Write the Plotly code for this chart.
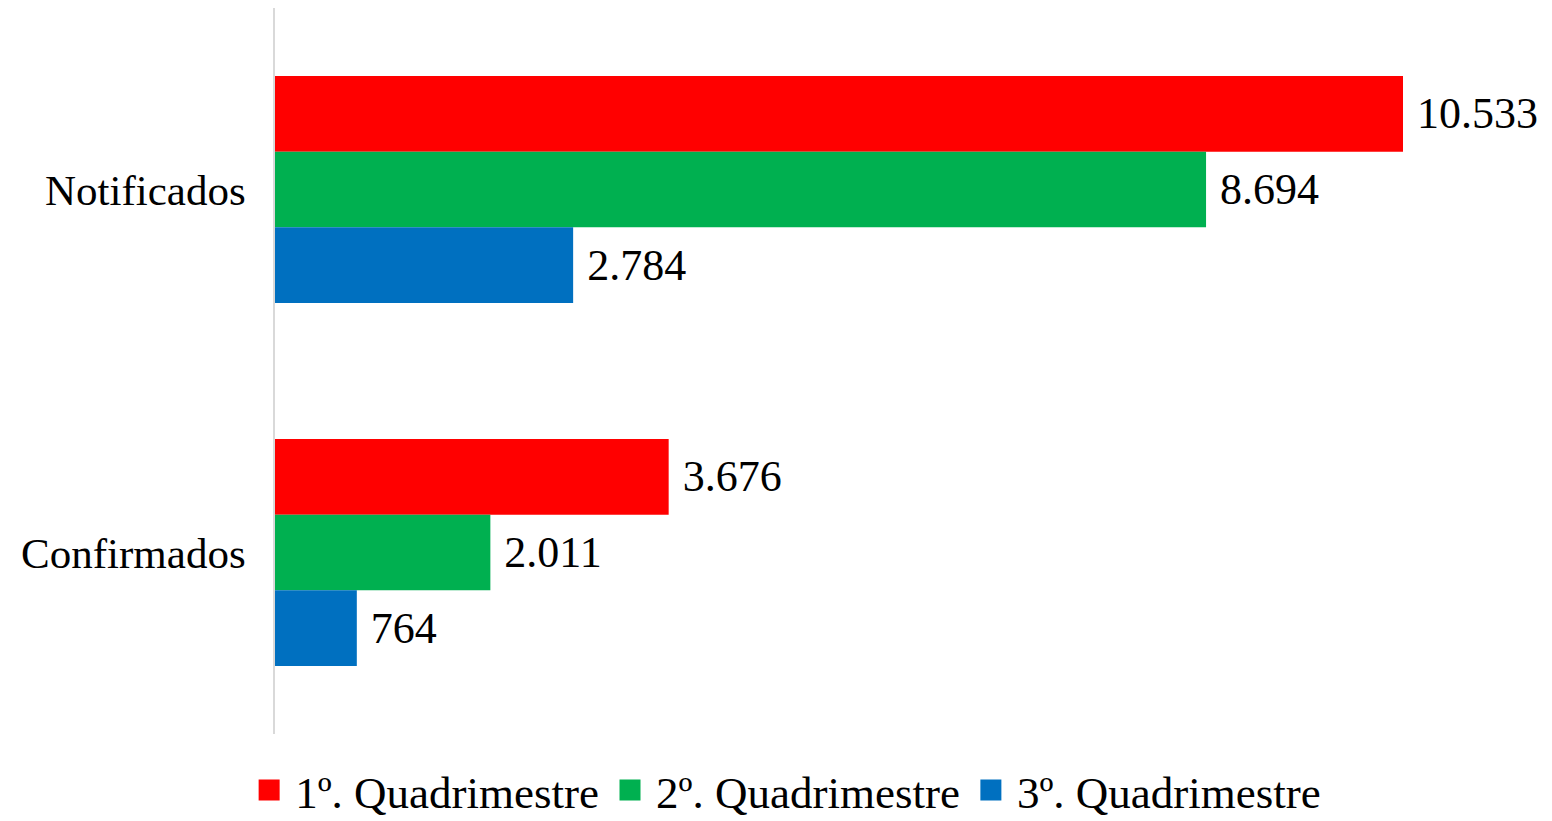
import plotly.graph_objects as go

categories = ["Notificados", "Confirmados"]
series_names = ["1º. Quadrimestre", "2º. Quadrimestre", "3º. Quadrimestre"]
q1 = [10533, 3676]
q2 = [8694, 2011]
q3 = [2784, 764]
colors = ["#FF0000", "#00B050", "#0070C0"]

FONT = "Liberation Serif"
FS = 43

def fmt(v):
    return " " + f"{v:,}".replace(",", ".")

fig = go.Figure()
for name, vals, col in zip(series_names, [q1, q2, q3], colors):
    fig.add_trace(go.Bar(
        y=categories, x=vals, orientation="h", name=name,
        marker=dict(color=col, line=dict(width=0)),
        text=[fmt(v) for v in vals], textposition="outside",
        textfont=dict(family=FONT, size=44, color="#000000"),
        cliponaxis=False, showlegend=False,
    ))
    fig.add_trace(go.Scatter(
        x=[None], y=[None], mode="markers", name=name,
        marker=dict(symbol="square", size=16, color=col, line=dict(width=5, color=col)),
        showlegend=True,
    ))

fig.update_layout(
    width=1544, height=813,
    paper_bgcolor="white", plot_bgcolor="white",
    margin=dict(l=267, r=10, t=0, b=87, autoexpand=False),
    barmode="group", bargap=0.375, bargroupgap=0,
    font=dict(family=FONT, size=FS, color="#000000"),
    legend=dict(orientation="h", xref="container", yref="paper",
                x=0.503, xanchor="center", y=-0.028, yanchor="top",
                font=dict(family=FONT, size=45), itemwidth=42, tracegroupgap=0,
                bgcolor="rgba(0,0,0,0)"),
    xaxis=dict(range=[0, 11831], showgrid=False, showticklabels=False, zeroline=False,
               showline=False, ticks="", automargin=False),
    yaxis=dict(autorange="reversed", showgrid=False, showline=True, linecolor="#D9D9D9",
               linewidth=1.5, ticks="", ticklabelstandoff=19, automargin=False,
               tickfont=dict(family=FONT, size=FS, color="#000000")),
)
fig.update_yaxes(categoryorder="array", categoryarray=categories)
fig.write_html("out.html")
